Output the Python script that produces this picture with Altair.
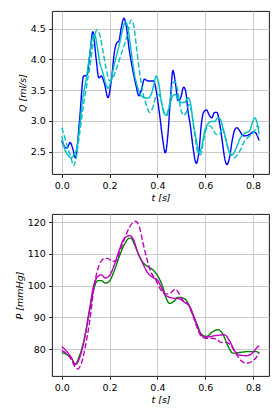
import altair as alt
import pandas as pd

# ---------------- top panel: flow Q [ml/s] ----------------
t_blue = [0.000, 0.014, 0.022, 0.035, 0.046, 0.057, 0.074, 0.091, 0.105, 0.116, 0.130, 0.144, 0.155, 0.165,
          0.179, 0.193, 0.207, 0.221, 0.230, 0.239, 0.249, 0.260, 0.270, 0.281, 0.295, 0.309, 0.323, 0.332,
          0.346, 0.360, 0.374, 0.385, 0.395, 0.409, 0.423, 0.433, 0.444, 0.454, 0.465, 0.476, 0.486, 0.496,
          0.510, 0.518, 0.528, 0.538, 0.549, 0.563, 0.574, 0.584, 0.593, 0.605, 0.619, 0.628, 0.639, 0.649,
          0.660, 0.671, 0.681, 0.691, 0.702, 0.713, 0.723, 0.733, 0.744, 0.758, 0.772, 0.786, 0.800, 0.810,
          0.821, 0.826]
q_blue = [2.68, 2.57, 2.56, 2.65, 2.55, 2.40, 3.00, 3.73, 3.74, 4.03, 4.45, 4.00, 3.70, 3.73,
          3.60, 3.38, 3.65, 4.14, 4.27, 4.30, 4.52, 4.67, 4.54, 4.19, 3.87, 3.60, 3.41, 3.49,
          3.68, 3.65, 3.65, 3.65, 3.49, 3.11, 2.68, 2.48, 2.78, 3.33, 3.82, 3.60, 3.33, 3.36,
          3.55, 3.49, 3.16, 2.92, 2.57, 2.31, 2.51, 2.95, 3.14, 3.18, 3.08, 3.05, 3.14, 3.14,
          2.97, 2.68, 2.41, 2.29, 2.41, 2.68, 2.85, 2.89, 2.84, 2.76, 2.76, 2.78, 2.82, 2.81,
          2.73, 2.68]

t_cyan = [0.000, 0.011, 0.025, 0.039, 0.053, 0.063, 0.074, 0.088, 0.102, 0.116, 0.127, 0.137, 0.148, 0.158,
          0.172, 0.183, 0.193, 0.204, 0.216, 0.230, 0.244, 0.258, 0.267, 0.276, 0.290, 0.304, 0.318, 0.332,
          0.346, 0.360, 0.374, 0.384, 0.395, 0.406, 0.416, 0.430, 0.440, 0.451, 0.465, 0.475, 0.486, 0.500,
          0.514, 0.528, 0.538, 0.549, 0.563, 0.574, 0.584, 0.598, 0.611, 0.625, 0.639, 0.653, 0.663, 0.674,
          0.688, 0.702, 0.713, 0.730, 0.744, 0.758, 0.772, 0.786, 0.797, 0.807, 0.817, 0.826]
q_cyan = [2.75, 2.56, 2.45, 2.40, 2.46, 2.56, 2.89, 3.38, 3.68, 4.06, 4.33, 4.41, 4.22, 3.97,
          3.78, 3.62, 3.53, 3.62, 3.86, 4.08, 4.30, 4.54, 4.61, 4.52, 4.14, 3.76, 3.54, 3.41,
          3.38, 3.37, 3.43, 3.57, 3.73, 3.60, 3.33, 3.11, 3.09, 3.25, 3.41, 3.43, 3.36, 3.30,
          3.30, 3.38, 3.30, 3.00, 2.68, 2.48, 2.56, 2.84, 2.95, 2.99, 2.99, 3.05, 3.03, 2.89,
          2.68, 2.48, 2.45, 2.56, 2.70, 2.78, 2.81, 2.84, 2.97, 3.05, 2.97, 2.78]

t_cyan_d = [0.000, 0.011, 0.025, 0.039, 0.049, 0.060, 0.074, 0.088, 0.105, 0.119, 0.133, 0.147, 0.158, 0.172,
            0.186, 0.200, 0.211, 0.225, 0.239, 0.253, 0.267, 0.276, 0.290, 0.300, 0.311, 0.325, 0.339, 0.353,
            0.367, 0.381, 0.395, 0.406, 0.416, 0.426, 0.437, 0.451, 0.465, 0.475, 0.486, 0.500, 0.510, 0.521,
            0.532, 0.542, 0.556, 0.570, 0.581, 0.593, 0.605, 0.619, 0.632, 0.646, 0.660, 0.671, 0.681, 0.695,
            0.709, 0.723, 0.737, 0.751, 0.765, 0.779, 0.793, 0.807, 0.817, 0.826]
q_cyan_d = [2.89, 2.75, 2.56, 2.40, 2.27, 2.40, 2.78, 3.19, 3.60, 3.92, 4.30, 4.48, 4.41, 4.14,
            3.84, 3.65, 3.68, 3.81, 3.97, 4.14, 4.30, 4.43, 4.64, 4.57, 4.25, 3.81, 3.46, 3.27,
            3.14, 3.22, 3.41, 3.43, 3.33, 3.16, 3.11, 3.27, 3.62, 3.64, 3.46, 3.16, 3.09, 3.14,
            3.27, 3.16, 2.78, 2.48, 2.45, 2.68, 2.87, 2.92, 2.87, 2.78, 2.78, 2.89, 2.78, 2.56,
            2.45, 2.40, 2.46, 2.56, 2.68, 2.73, 2.78, 2.84, 2.92, 2.89]

# ---------------- bottom panel: pressure P [mmHg] ----------------
t_green = [0.000, 0.018, 0.039, 0.057, 0.074, 0.095, 0.116, 0.134, 0.151, 0.165, 0.183, 0.200, 0.221, 0.242,
           0.262, 0.283, 0.290, 0.304, 0.323, 0.339, 0.360, 0.381, 0.402, 0.423, 0.437, 0.451, 0.468, 0.486,
           0.510, 0.528, 0.542, 0.563, 0.584, 0.605, 0.632, 0.653, 0.674, 0.695, 0.716, 0.744, 0.779, 0.814,
           0.826]
p_green = [78.9, 78.4, 77.2, 75.3, 77.9, 83.5, 92.0, 99.0, 101.6, 101.6, 100.8, 101.5, 105.0, 109.5,
           113.0, 115.0, 115.0, 113.0, 109.5, 107.4, 106.0, 105.0, 103.0, 99.5, 96.0, 94.4, 95.0, 96.3,
           96.0, 94.5, 92.0, 88.4, 84.7, 84.0, 85.5, 86.1, 84.7, 81.0, 78.7, 78.9, 79.2, 79.2,
           78.7]

t_mag = [0.000, 0.018, 0.039, 0.057, 0.074, 0.095, 0.116, 0.134, 0.151, 0.165, 0.183, 0.200, 0.221, 0.242,
         0.262, 0.286, 0.300, 0.318, 0.339, 0.360, 0.381, 0.402, 0.416, 0.430, 0.451, 0.472, 0.493, 0.514,
         0.535, 0.556, 0.577, 0.598, 0.619, 0.639, 0.660, 0.681, 0.702, 0.723, 0.744, 0.772, 0.800, 0.817,
         0.826]
p_mag = [80.8, 79.5, 77.4, 75.1, 77.1, 83.2, 92.6, 100.2, 102.9, 103.4, 102.4, 103.2, 106.8, 111.6,
         115.0, 115.8, 114.5, 110.5, 107.0, 104.0, 102.6, 101.6, 99.5, 97.4, 96.3, 96.0, 95.8, 94.7,
         93.5, 89.5, 85.3, 83.7, 83.9, 84.2, 84.4, 84.5, 82.6, 79.5, 78.1, 77.9, 78.9, 80.5,
         81.0]

t_mag_d = [0.000, 0.018, 0.039, 0.057, 0.067, 0.081, 0.099, 0.116, 0.137, 0.158, 0.179, 0.193, 0.211, 0.228,
           0.244, 0.262, 0.283, 0.308, 0.323, 0.339, 0.356, 0.374, 0.395, 0.412, 0.430, 0.448, 0.475, 0.490,
           0.507, 0.528, 0.546, 0.563, 0.584, 0.605, 0.625, 0.646, 0.667, 0.688, 0.709, 0.730, 0.751, 0.772,
           0.793, 0.811, 0.826]
p_mag_d = [79.5, 78.7, 76.8, 74.2, 73.7, 75.3, 81.0, 88.4, 100.5, 106.8, 108.6, 108.6, 107.6, 107.9,
           111.0, 114.7, 118.4, 120.3, 118.9, 113.7, 108.4, 104.2, 101.6, 98.9, 97.4, 97.4, 98.9, 97.6,
           95.3, 94.2, 91.1, 87.4, 84.0, 83.4, 83.4, 83.2, 82.1, 82.1, 81.0, 78.4, 76.3, 75.5,
           76.0, 77.1, 78.9]

x_ticks = [0.0, 0.2, 0.4, 0.6, 0.8]
q_ticks = [2.5, 3.0, 3.5, 4.0, 4.5]
p_ticks = [80, 90, 100, 110, 120]

FONT = "DejaVu Sans"
SOLID = [1, 0]
DASH = [5.5, 2.4]

x_scale = alt.Scale(domain=[-0.041, 0.867], nice=False, zero=False)


def line(t, v, color, dash, ydomain, yticks, ytitle):
    df = pd.DataFrame({"t": t, "v": v})
    return alt.Chart(df).mark_line(
        color=color, strokeWidth=1.4, strokeDash=dash, interpolate="monotone", clip=True
    ).encode(
        x=alt.X("t:Q", scale=x_scale,
                axis=alt.Axis(values=x_ticks, format=".1f", title="t [s]")),
        y=alt.Y("v:Q", scale=alt.Scale(domain=ydomain, nice=False, zero=False),
                axis=alt.Axis(values=yticks, format=".1f" if yticks[0] < 10 else "d", title=ytitle)),
    )


qdom = [2.137, 4.788]
pdom = [71.5, 122.6]

top = alt.layer(
    line(t_blue, q_blue, "#0000ff", SOLID, qdom, q_ticks, "Q [ml/s]"),
    line(t_cyan_d, q_cyan_d, "#00bfbf", DASH, qdom, q_ticks, "Q [ml/s]"),
    line(t_cyan, q_cyan, "#00bfbf", SOLID, qdom, q_ticks, "Q [ml/s]"),
).properties(width=217, height=163)

bottom = alt.layer(
    line(t_green, p_green, "#008000", SOLID, pdom, p_ticks, "P [mmHg]"),
    line(t_mag_d, p_mag_d, "#bf00bf", DASH, pdom, p_ticks, "P [mmHg]"),
    line(t_mag, p_mag, "#bf00bf", SOLID, pdom, p_ticks, "P [mmHg]"),
).properties(width=217, height=162)

chart = alt.vconcat(top, bottom, spacing=10).properties(
    padding={"left": 5, "top": 2, "right": 2, "bottom": 2}
).configure_view(
    stroke="black", strokeWidth=0.9
).configure_axis(
    labelFont=FONT, labelFontSize=9.5, labelColor="black",
    titleFont=FONT, titleFontSize=9.5, titleColor="black", titleFontStyle="italic",
    titleFontWeight="normal", titlePadding=3,
    tickColor="black", tickSize=3.3, tickWidth=0.9, labelPadding=3.3,
    domain=False, grid=True, gridColor="#c4c4c4", gridWidth=0.9,
).configure_axisX(
    titlePadding=2
)

chart.save("out.html", embed_options={"renderer": "svg", "actions": False})
